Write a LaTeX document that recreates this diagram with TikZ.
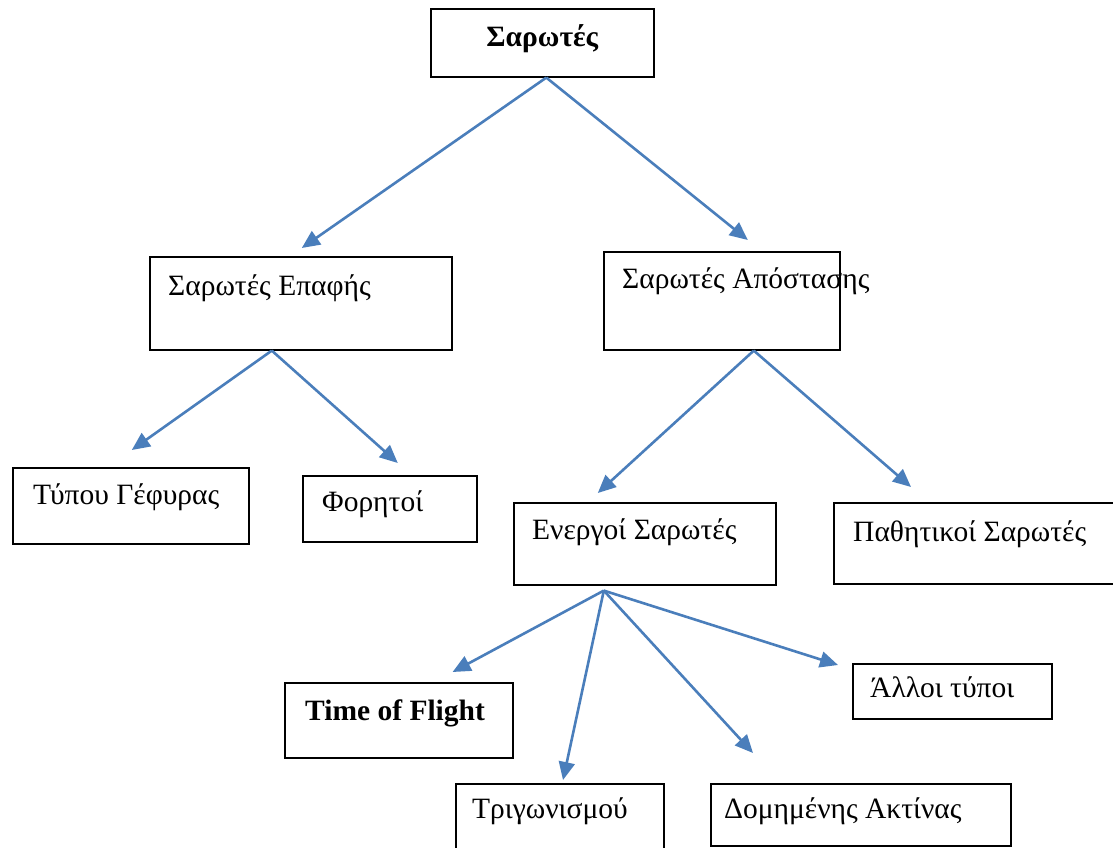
\documentclass[tikz,border=0pt]{standalone}
\usepackage{fontspec}
\setmainfont{Liberation Serif}
\usetikzlibrary{arrows.meta, positioning}
\definecolor{ScanBlue}{RGB}{74, 126, 187}

\begin{document}
\begin{tikzpicture}[
    x=1pt, y=-1pt,
    font=\fontsize{29.5}{34}\selectfont,
    >={Triangle[length=18pt, width=16pt]},
    box/.style = {
        rectangle, draw=black, line width=1.6pt,
        anchor=north west, inner sep=0pt
    },
    boxtext/.style = {anchor=base west, inner sep=0pt},
    boldtext/.style = {inner sep=0pt, font=\bfseries\fontsize{29.5}{34}\selectfont},
    arrow/.style = {->, line width=2.6pt, draw=ScanBlue, fill=ScanBlue}
]
\useasboundingbox (0,0) rectangle (1113,848);

% ===== ROOT =====
\node[box, minimum width=223pt, minimum height=68pt] (scanners) at (430,8) {};
\node[boldtext, anchor=base] (scanners-t) at ([yshift=-39pt]scanners.north) {Σαρωτές};

% ===== LEVEL 1 =====
\node[box, minimum width=302pt, minimum height=93pt] (contact) at (149,256) {};
\node[boxtext] (contact-t) at ([shift={(19,39)}]contact.north west) {Σαρωτές Επαφής};

\node[box, minimum width=236pt, minimum height=98pt] (range) at (603,251) {};
\node[boxtext] (range-t) at ([shift={(19,37)}]range.north west) {Σαρωτές Απόστασης};

% ===== LEVEL 2 =====
\node[box, minimum width=236pt, minimum height=76pt] (bridge) at (12,467) {};
\node[boxtext] (bridge-t) at ([shift={(21,37)}]bridge.north west) {Τύπου Γέφυρας};

\node[box, minimum width=174pt, minimum height=66pt] (portable) at (302,475) {};
\node[boxtext] (portable-t) at ([shift={(20,36)}]portable.north west) {Φορητοί};

\node[box, minimum width=262pt, minimum height=82pt] (active) at (513,502) {};
\node[boxtext] (active-t) at ([shift={(19,37)}]active.north west) {Ενεργοί Σαρωτές};

\node[box, minimum width=300pt, minimum height=81pt] (passive) at (833,502) {};
\node[boxtext] (passive-t) at ([shift={(20,39)}]passive.north west) {Παθητικοί Σαρωτές};

% ===== LEVEL 3 =====
\node[box, minimum width=228pt, minimum height=75pt] (tof) at (284,682) {};
\node[boldtext, anchor=base west] (tof-t) at ([shift={(21,38)}]tof.north west) {Time of Flight};

\node[box, minimum width=208pt, minimum height=80pt] (triang) at (455,783) {};
\node[boxtext] (triang-t) at ([shift={(17,35)}]triang.north west) {Τριγωνισμού};

\node[box, minimum width=300pt, minimum height=62pt] (structured) at (710,783) {};
\node[boxtext] (structured-t) at ([shift={(14,35)}]structured.north west) {Δομημένης Ακτίνας};

\node[box, minimum width=199pt, minimum height=55pt] (other) at (852,663) {};
\node[boxtext] (other-t) at ([shift={(18,34)}]other.north west) {Άλλοι τύποι};

% ===== ARROWS =====
\coordinate (scanners-out) at ([xshift=4pt]scanners.south);
\coordinate (contact-out)  at ([xshift=-29pt]contact.south);
\coordinate (range-out)    at ([xshift=32pt]range.south);
\coordinate (active-out)   at ([shift={(-41,5)}]active.south);

\draw[arrow] (scanners-out) -- ([shift={(1,-8)}]contact.north);
\draw[arrow] (scanners-out) -- ([shift={(26,-11)}]range.north);
\draw[arrow] (contact-out)  -- ([shift={(1,-17)}]bridge.north);
\draw[arrow] (contact-out)  -- ([shift={(8,-12)}]portable.north);
\draw[arrow] (range-out)    -- ([shift={(-47,-9)}]active.north);
\draw[arrow] (range-out)    -- ([shift={(78,-15)}]passive.north west);
\draw[arrow] (active-out)   -- ([shift={(-61,-10)}]tof.north east);
\draw[arrow] (active-out)   -- ([shift={(108,-3)}]triang.north west);
\draw[arrow] (active-out)   -- ([shift={(43,-30)}]structured.north west);
\draw[arrow] (active-out)   -- ([shift={(-14,2)}]other.north west);
\end{tikzpicture}
\end{document}
